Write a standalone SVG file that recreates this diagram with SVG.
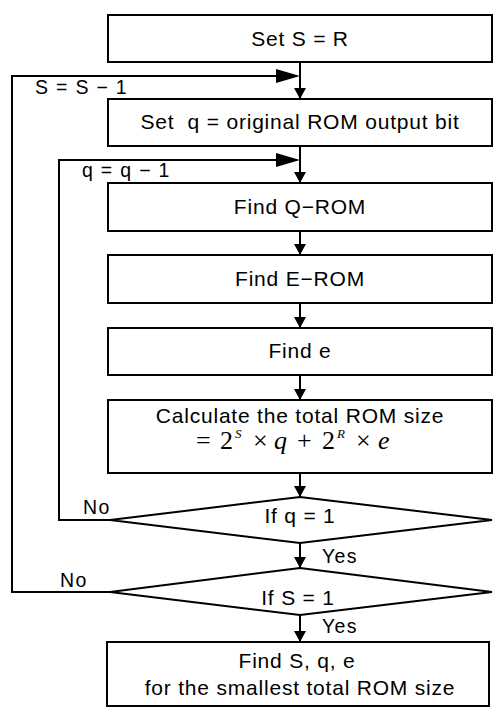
<svg xmlns="http://www.w3.org/2000/svg" width="493" height="707" viewBox="0 0 493 707">
<style>
.box{fill:#fff;stroke:#000;stroke-width:2}
.t{font-family:"Liberation Sans",Arial,sans-serif;font-size:21px;letter-spacing:0.8px;fill:#000;text-anchor:middle}
.l{font-family:"Liberation Sans",Arial,sans-serif;font-size:19.5px;letter-spacing:1.3px;fill:#000}
.m{font-family:"Liberation Serif","Times New Roman",serif;font-size:26px;fill:#000}
.i{font-style:italic}
.c{fill:none;stroke:#000;stroke-width:2}
.ah{fill:#000}
</style>
<defs>
<marker id="down" markerUnits="userSpaceOnUse" markerWidth="14" markerHeight="14" viewBox="0 0 14 14" refX="13" refY="7" orient="auto">
<path d="M2,1 L13,7 L2,13 Z" fill="#000"/>
</marker>
</defs>
<rect x="0" y="0" width="493" height="707" fill="#fff"/>
<g id="connectors">
<path class="c" d="M300,62 V99" marker-end="url(#down)"/>
<path class="c" d="M300,146 V183" marker-end="url(#down)"/>
<path class="c" d="M300,231 V255" marker-end="url(#down)"/>
<path class="c" d="M300,303 V328" marker-end="url(#down)"/>
<path class="c" d="M300,375 V400" marker-end="url(#down)"/>
<path class="c" d="M300,473 V497" marker-end="url(#down)"/>
<path class="c" d="M300,543 V568" marker-end="url(#down)"/>
<path class="c" d="M300,615 V642" marker-end="url(#down)"/>
<path class="c" d="M110,592 H12 V76 H280"/>
<polygon class="ah" points="276,69 300,76 276,83"/>
<path class="c" d="M110,520 H59 V160 H280"/>
<polygon class="ah" points="276,153 300,160 276,167"/>
<text class="l" x="35" y="94">S = S − 1</text>
<text class="l" x="82" y="177">q = q − 1</text>
<text class="l" x="83" y="514">No</text>
<text class="l" x="60" y="587">No</text>
<text class="l" x="322" y="563">Yes</text>
<text class="l" x="322" y="633">Yes</text>
</g>
<g id="n1">
<rect class="box" x="108" y="15" width="384" height="47"/>
<text class="t" x="300" y="46">Set S = R</text>
</g>
<g id="n2">
<rect class="box" x="108" y="99" width="384" height="47"/>
<text class="t" x="300" y="129" xml:space="preserve">Set  q = original ROM output bit</text>
</g>
<g id="n3">
<rect class="box" x="108" y="183" width="384" height="48"/>
<text class="t" x="300" y="214">Find Q−ROM</text>
</g>
<g id="n4">
<rect class="box" x="108" y="255" width="384" height="48"/>
<text class="t" x="300" y="286">Find E−ROM</text>
</g>
<g id="n5">
<rect class="box" x="108" y="328" width="384" height="47"/>
<text class="t" x="300" y="358">Find e</text>
</g>
<g id="n6">
<rect class="box" x="108" y="400" width="384" height="73"/>
<text class="t" x="300" y="423">Calculate the total ROM size</text>
<text class="m" y="449"><tspan x="196">=</tspan><tspan x="220">2</tspan><tspan x="235" dy="-11" class="i" font-size="13">S</tspan><tspan x="253" dy="11">×</tspan><tspan x="274" class="i">q</tspan><tspan x="297">+</tspan><tspan x="322">2</tspan><tspan x="337" dy="-11" class="i" font-size="13">R</tspan><tspan x="356" dy="11">×</tspan><tspan x="378" class="i">e</tspan></text>
</g>
<g id="n7">
<polygon class="box" points="300,497 492,520 300,543 110,520"/>
<text class="t" x="300" y="523">If q = 1</text>
</g>
<g id="n8">
<polygon class="box" points="300,568 492,592 300,615 110,592"/>
<text class="t" x="298" y="605">If S = 1</text>
</g>
<g id="n9">
<rect class="box" x="107" y="642" width="382" height="64"/>
<text class="t" x="297" y="668">Find S, q, e</text>
<text class="t" x="300" y="695">for the smallest total ROM size</text>
</g>
</svg>
